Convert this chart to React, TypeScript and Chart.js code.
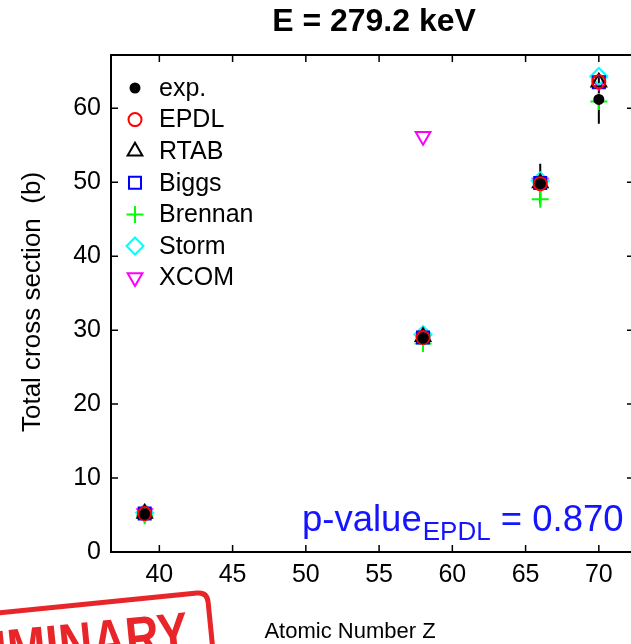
import React, { useEffect, useRef } from "react";
import { Chart, registerables } from "chart.js";
Chart.register(...registerables);

const atomicZ = [39, 58, 66, 70];
const expVals = [5.1, 28.9, 49.8, 61.2];
const expErr = [0.4, 1.0, 2.7, 3.3];
const epdlVals = [5.2, 29.0, 49.8, 63.6];
const rtabVals = [5.2, 29.1, 49.9, 63.5];
const biggsVals = [5.2, 29.0, 49.9, 63.5];
const brennanVals = [4.9, 28.2, 47.7, 60.9];
const stormVals = [5.3, 29.4, 50.2, 64.3];
const xcomZ = [39, 58, 66, 70];
const xcomVals = [5.2, 56.2, 49.9, 63.7];
const xTicks = [40, 45, 50, 55, 60, 65, 70];
const yTicks = [0, 10, 20, 30, 40, 50, 60];
const seriesNames = ["exp.", "EPDL", "RTAB", "Biggs", "Brennan", "Storm", "XCOM"];
const titleText = "E = 279.2 keV";
const xTitle = "Atomic Number Z";
const yTitle = "Total cross section  (b)";
const pLabel = "p-value";
const pSub = "EPDL";
const pValue = " = 0.870";
const stampText = "PRELIMINARY";

const FONT = "'Liberation Sans', Arial, Helvetica, sans-serif";

type Style = { shape: string; color: string; r: number; fill?: boolean; rot?: number };
const styles: Style[] = [
  { shape: "circle", color: "#000000", r: 4.5, fill: true },
  { shape: "circle", color: "#ff0000", r: 6.5 },
  { shape: "triangle", color: "#000000", r: 8.5 },
  { shape: "rect", color: "#0000ff", r: 8.5 },
  { shape: "cross", color: "#00ff00", r: 8.5 },
  { shape: "rectRot", color: "#00ffff", r: 8.5 },
  { shape: "triangle", color: "#ff00ff", r: 8.5, rot: 180 },
];

function drawMarker(ctx: CanvasRenderingContext2D, s: Style, x: number, y: number) {
  ctx.save();
  ctx.strokeStyle = s.color;
  ctx.fillStyle = s.color;
  ctx.lineWidth = 2;
  ctx.beginPath();
  const r = s.r;
  if (s.shape === "circle") {
    ctx.arc(x, y, r, 0, Math.PI * 2);
  } else if (s.shape === "triangle") {
    const a0 = ((s.rot || 0) * Math.PI) / 180;
    for (let i = 0; i < 3; i++) {
      const a = a0 - Math.PI / 2 + (i * 2 * Math.PI) / 3;
      const px = x + r * Math.cos(a);
      const py = y + r * Math.sin(a);
      if (i === 0) ctx.moveTo(px, py);
      else ctx.lineTo(px, py);
    }
    ctx.closePath();
  } else if (s.shape === "rect") {
    const h = r * Math.SQRT1_2;
    ctx.rect(x - h, y - h, 2 * h, 2 * h);
  } else if (s.shape === "cross") {
    ctx.moveTo(x - r, y);
    ctx.lineTo(x + r, y);
    ctx.moveTo(x, y - r);
    ctx.lineTo(x, y + r);
  } else if (s.shape === "rectRot") {
    ctx.moveTo(x, y - r);
    ctx.lineTo(x + r, y);
    ctx.lineTo(x, y + r);
    ctx.lineTo(x - r, y);
    ctx.closePath();
  }
  if (s.fill) ctx.fill();
  ctx.stroke();
  ctx.restore();
}

const decorPlugin = {
  id: "decor",
  beforeDatasetsDraw(chart: any) {
    const { ctx, chartArea: a, scales } = chart;
    const xs = scales.x;
    const ys = scales.y;
    ctx.save();
    ctx.strokeStyle = "#000";
    ctx.lineWidth = 2;
    ctx.beginPath();
    ctx.moveTo(a.left, a.top);
    ctx.lineTo(a.right, a.top);
    ctx.lineTo(a.right, a.bottom);
    ctx.lineTo(a.left, a.bottom);
    ctx.closePath();
    ctx.stroke();
    ctx.lineWidth = 1.5;
    ctx.beginPath();
    const tl = 7;
    xTicks.forEach((v) => {
      const px = xs.getPixelForValue(v);
      ctx.moveTo(px, a.bottom);
      ctx.lineTo(px, a.bottom - tl);
      ctx.moveTo(px, a.top);
      ctx.lineTo(px, a.top + tl);
    });
    yTicks.forEach((v) => {
      const py = ys.getPixelForValue(v);
      ctx.moveTo(a.left, py);
      ctx.lineTo(a.left + tl, py);
      ctx.moveTo(a.right, py);
      ctx.lineTo(a.right - tl, py);
    });
    ctx.stroke();
    // error bars
    ctx.lineWidth = 2;
    ctx.beginPath();
    atomicZ.forEach((z, i) => {
      const px = xs.getPixelForValue(z);
      ctx.moveTo(px, ys.getPixelForValue(expVals[i] - expErr[i]));
      ctx.lineTo(px, ys.getPixelForValue(expVals[i] + expErr[i]));
    });
    ctx.stroke();
    ctx.restore();
  },
  afterDraw(chart: any) {
    const { ctx, chartArea: a } = chart;
    ctx.save();
    ctx.fillStyle = "#000";
    // title
    ctx.font = `bold 32px ${FONT}`;
    ctx.textAlign = "center";
    ctx.textBaseline = "middle";
    ctx.fillText(titleText, a.left + 263, 22);
    // x title
    ctx.font = `22px ${FONT}`;
    ctx.fillText(xTitle, a.left + 239, 632);
    // y title
    ctx.save();
    ctx.translate(33, 302);
    ctx.rotate(-Math.PI / 2);
    ctx.font = `26px ${FONT}`;
    ctx.fillText(yTitle, 0, 0);
    ctx.restore();
    // legend
    ctx.font = `25px ${FONT}`;
    ctx.textAlign = "left";
    seriesNames.forEach((n, i) => {
      const y = a.top + 33 + i * 31.6;
      drawMarker(ctx, styles[i], a.left + 24, y);
      ctx.fillStyle = "#000";
      ctx.fillText(n, a.left + 48, y + 1);
    });
    // p-value
    ctx.fillStyle = "#1414ff";
    ctx.textBaseline = "alphabetic";
    ctx.font = `36.5px ${FONT}`;
    let x = a.left + 191;
    const base = 531;
    ctx.fillText(pLabel, x, base);
    x += ctx.measureText(pLabel).width + 1;
    ctx.font = `26px ${FONT}`;
    ctx.fillText(pSub, x, base + 9);
    x += ctx.measureText(pSub).width;
    ctx.font = `36.5px ${FONT}`;
    ctx.fillText(pValue, x, base);
    // stamp
    ctx.save();
    ctx.translate(190, 652);
    ctx.rotate(-0.1);
    ctx.strokeStyle = "#e8262a";
    ctx.fillStyle = "#e8262a";
    ctx.lineWidth = 5;
    ctx.beginPath();
    const bx = -360, by = -58, bw = 383, bh = 110, rr = 10;
    ctx.moveTo(bx + rr, by);
    ctx.lineTo(bx + bw - rr, by);
    ctx.quadraticCurveTo(bx + bw, by, bx + bw, by + rr);
    ctx.lineTo(bx + bw, by + bh);
    ctx.stroke();
    ctx.scale(0.8, 1);
    ctx.font = `bold 58px ${FONT}`;
    ctx.textAlign = "right";
    ctx.textBaseline = "alphabetic";
    ctx.fillText(stampText, 0, 0);
    ctx.restore();
    ctx.restore();
  },
};

function mkData(xv: number[], yv: number[]) {
  return xv.map((x, i) => ({ x, y: yv[i] }));
}

export default function App() {
  const ref = useRef<HTMLCanvasElement>(null);
  useEffect(() => {
    if (!ref.current) return;
    const series = [expVals, epdlVals, rtabVals, biggsVals, brennanVals, stormVals, xcomVals];
    const datasets = series.map((vals, i) => {
      const s = styles[i];
      return {
        label: seriesNames[i],
        data: mkData(i === 6 ? xcomZ : atomicZ, vals),
        showLine: false,
        pointStyle: s.shape,
        pointRadius: s.r,
        pointRotation: s.rot || 0,
        pointBorderWidth: 2,
        pointBorderColor: s.color,
        pointBackgroundColor: s.fill ? s.color : "rgba(0,0,0,0)",
        borderColor: s.color,
        backgroundColor: s.fill ? s.color : "rgba(0,0,0,0)",
      };
    });
    const chart = new Chart(ref.current, {
      type: "scatter",
      data: { datasets: datasets as any },
      options: {
        animation: false,
        responsive: false,
        devicePixelRatio: 1,
        layout: { autoPadding: false, padding: { top: 55, right: 6, left: 0, bottom: 0 } },
        plugins: { legend: { display: false }, tooltip: { enabled: false }, title: { display: false } },
        scales: {
          x: {
            type: "linear",
            min: 36.7,
            max: 72.4,
            grid: { display: false, drawTicks: false },
            border: { display: false },
            ticks: { padding: 8, color: "#000", font: { family: FONT, size: 25 } },
            afterBuildTicks: (s: any) => {
              s.ticks = xTicks.map((v) => ({ value: v }));
            },
            afterFit: (s: any) => {
              s.height = 92;
              s.paddingLeft = 0;
              s.paddingRight = 0;
            },
          },
          y: {
            type: "linear",
            min: 0,
            max: 67.2,
            grid: { display: false, drawTicks: false },
            border: { display: false },
            ticks: { padding: 10, color: "#000", font: { family: FONT, size: 25 } },
            afterBuildTicks: (s: any) => {
              s.ticks = yTicks.map((v) => ({ value: v }));
            },
            afterFit: (s: any) => {
              s.width = 111;
              s.paddingTop = 0;
              s.paddingBottom = 0;
            },
          },
        },
      } as any,
      plugins: [decorPlugin],
    });
    return () => chart.destroy();
  }, []);
  return (
    <div style={{ position: "fixed", left: 0, top: 0, width: 631, height: 644, overflow: "hidden", background: "#fff" }}>
      <canvas ref={ref} width={640} height={644} style={{ display: "block" }} />
    </div>
  );
}
